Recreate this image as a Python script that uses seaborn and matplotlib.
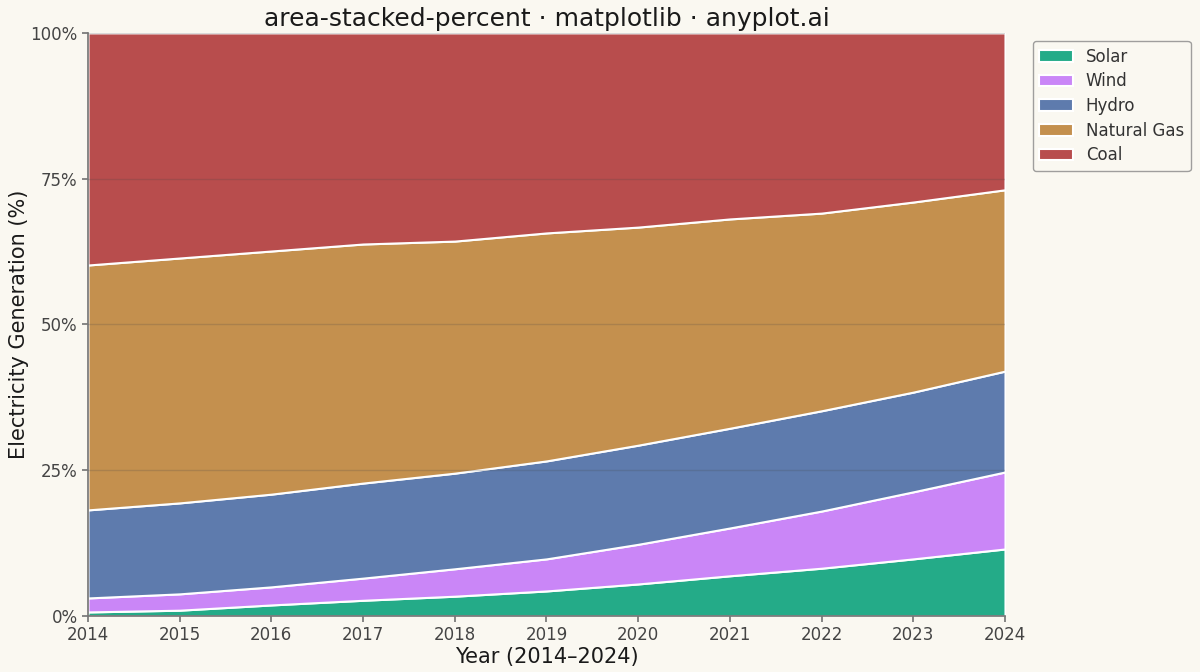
import pandas as pd
import numpy as np
import matplotlib
matplotlib.use("Agg")
import matplotlib.pyplot as plt
from matplotlib.ticker import PercentFormatter
import seaborn as sns

# Data: share of electricity generation (%)
years = [2014, 2015, 2016, 2017, 2018, 2019, 2020, 2021, 2022, 2023, 2024]
solar = [0.7, 1.0, 1.9, 2.7, 3.4, 4.3, 5.5, 6.9, 8.2, 9.8, 11.5]
wind = [2.4, 2.8, 3.1, 3.8, 4.7, 5.5, 6.8, 8.2, 9.8, 11.5, 13.2]
hydro = [15.1, 15.6, 15.9, 16.3, 16.4, 16.8, 17.0, 17.1, 17.2, 17.1, 17.3]
natural_gas = [42.0, 42.0, 41.7, 41.0, 39.8, 39.1, 37.4, 35.9, 33.9, 32.6, 31.1]
coal = [39.8, 38.6, 37.4, 36.2, 35.7, 34.3, 33.3, 31.9, 30.9, 29.0, 26.9]

sources = ["Solar", "Wind", "Hydro", "Natural Gas", "Coal"]
colors = ["#24AB88", "#CA86F7", "#5E7BAD", "#C4904E", "#B84D4D"]

df = pd.DataFrame({"Year": years, "Solar": solar, "Wind": wind, "Hydro": hydro,
                   "Natural Gas": natural_gas, "Coal": coal})
shares = df[sources].div(df[sources].sum(axis=1), axis=0) * 100

bg = "#FAF8F1"
sns.set_theme(style="ticks", rc={"axes.facecolor": bg, "figure.facecolor": bg})
plt.rcParams["font.family"] = ["DejaVu Sans"]

fig, ax = plt.subplots(figsize=(12, 6.72), dpi=100)
fig.subplots_adjust(left=0.0733, right=0.8375, top=0.951, bottom=0.0833)

ax.stackplot(df["Year"], *[shares[s] for s in sources], labels=sources,
             colors=colors, edgecolor="white", linewidth=1.5)

ax.set_xlim(2014, 2024)
ax.set_ylim(0, 100)
ax.set_xticks(years)
ax.set_yticks([0, 25, 50, 75, 100])
ax.yaxis.set_major_formatter(PercentFormatter(decimals=0))
ax.grid(axis="y", color="#444444", alpha=0.2, linewidth=1)
ax.set_axisbelow(False)

sns.despine(ax=ax)
for sp in ["left", "bottom"]:
    ax.spines[sp].set_color("#777777")
ax.tick_params(labelsize=12, length=4, colors="#777777", labelcolor="#444444")

ax.set_title("area-stacked-percent · matplotlib · anyplot.ai", fontsize=18, color="#1a1a1a", pad=5)
ax.set_xlabel("Year (2014–2024)", fontsize=15, color="#1a1a1a", labelpad=2)
ax.set_ylabel("Electricity Generation (%)", fontsize=15, color="#1a1a1a", labelpad=1)

leg = ax.legend(loc="upper left", bbox_to_anchor=(1.03, 0.986), fontsize=12,
                frameon=True, facecolor=bg, edgecolor="#888888", borderaxespad=0,
                labelspacing=0.4)
for t in leg.get_texts():
    t.set_color("#333333")

plt.savefig("out.png", dpi=100, facecolor=bg)
